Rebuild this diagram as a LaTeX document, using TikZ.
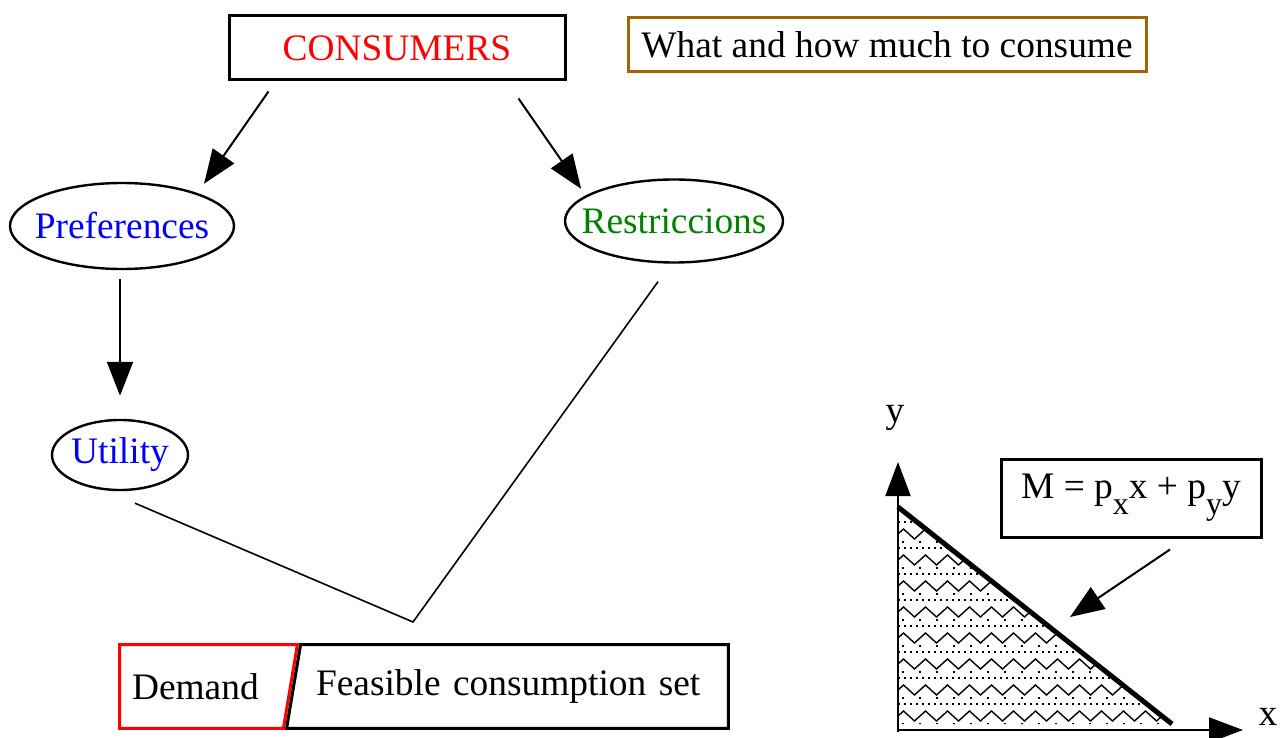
\documentclass[tikz,border=0pt]{standalone}
\usepackage{fontspec}
\setmainfont{Liberation Serif}
\usetikzlibrary{arrows.meta,shapes.geometric,decorations.pathmorphing}
\definecolor{txtred}{RGB}{255,0,0}
\definecolor{txtblue}{RGB}{0,0,255}
\definecolor{txtgreen}{RGB}{0,128,0}
\definecolor{boxbrown}{RGB}{160,102,0}
\newcommand{\lowsub}[1]{\raisebox{-8pt}{\fontsize{16}{16}\selectfont #1}}
\begin{document}
\begin{tikzpicture}[x=0.5pt,y=-0.5pt,font=\fontsize{18.7}{22}\selectfont,
  box/.style={draw,line width=1.5pt,inner sep=0pt},
  oval/.style={ellipse,draw,line width=1.2pt,inner sep=0pt},
  arr/.style={-{Triangle[length=17pt,width=13pt]},line width=1pt},
  axisarr/.style={-{Triangle[length=17pt,width=12.5pt]},line width=1pt},
  link/.style={line width=0.8pt}]
\useasboundingbox (0,0) rectangle (1287,738);
% top boxes
\node[box,minimum width=168pt,minimum height=32pt,text=txtred] (cons) at (397,48) {CONSUMERS};
\node[box,draw=boxbrown,minimum width=259pt,minimum height=27pt] (what) at (887,45) {What and how much to consume};
% ovals
\node[oval,minimum width=112pt,minimum height=43pt,text=txtblue] (pref) at (122,226) {\makebox[0pt]{Preferences}};
\node[oval,minimum width=109pt,minimum height=41.5pt,text=txtgreen] (restr) at (674,221) {\makebox[0pt]{Restriccions}};
\node[oval,minimum width=68pt,minimum height=35pt,text=txtblue] (util) at (120,455) {\makebox[0pt]{Utility}};
\draw[arr] ([xshift=20.5pt,yshift=-5pt]cons.south west) -- ([xshift=1pt,yshift=5.5pt]pref.north east);
\draw[arr] ([xshift=-24pt,yshift=-8.5pt]cons.south east) -- ([xshift=-7.5pt,yshift=1pt]restr.north west);
\draw[arr,shorten <=4.5pt,shorten >=11.5pt] (pref.south -| util.north) -- (util.north);
\coordinate (meet) at (413,622);
\draw[link] ([xshift=7.5pt,yshift=-6pt]util.south) -- (meet) -- ([xshift=-8pt,yshift=-9pt]restr.south);
% bottom boxes
\node[minimum height=41.5pt,text width=76.5pt,inner xsep=6pt,inner ysep=0pt,align=left] (dem) at (208.5,686.5) {Demand};
\node[minimum height=41.5pt,text width=196.5pt,inner xsep=9.5pt,inner ysep=0pt,align=left] (feas) at (512.5,686.5) {Feasible consumption set};
\draw[line width=1.5pt,txtred] (dem.north west) -- (dem.north east) -- ([xshift=-7pt]dem.south east) -- (dem.south west) -- cycle;
\draw[line width=1.5pt] ([xshift=2pt]feas.north west) -- (feas.north east) -- (feas.south east) -- ([xshift=-5pt]feas.south west) -- cycle;
% budget set
\coordinate (o) at (898,732);
\coordinate (ytop) at (898,462);
\coordinate (xend) at (1243,730);
\coordinate (ya) at (898,507);
\coordinate (xa) at (1172,724);
\begin{scope}
\clip (ya) -- (xa) -- (898,724) -- cycle;
\foreach \yy in {522,548,...,730} {
  \draw[line width=1.2pt,dash pattern=on 1.2pt off 1.8pt] (898,\yy) -- (1180,\yy);
  \draw[line width=0.7pt,decorate,decoration={zigzag,segment length=11pt,amplitude=2.5pt}] (898,\yy+12) -- (1180,\yy+12);
  \draw[line width=1.2pt,dash pattern=on 1.2pt off 7.3pt] (902,\yy+20) -- (1180,\yy+20);
}
\end{scope}
\draw[line width=2.5pt] (ya) -- (xa);
\draw[axisarr] (o) -- (ytop);
\draw[axisarr] ([yshift=1pt]o) -- (xend);
\node (ylab) at (895,418) {y};
\node (xlab) at (1268,717) {x};
\node[box,minimum width=130pt,minimum height=39pt] (eq) at (1131,498) {M = p\lowsub{x}x + p\lowsub{y}y};
\coordinate (eqtip) at (1070,617);
\draw[arr] ([xshift=19.5pt,yshift=-5.5pt]eq.south) -- (eqtip);
\end{tikzpicture}
\end{document}
